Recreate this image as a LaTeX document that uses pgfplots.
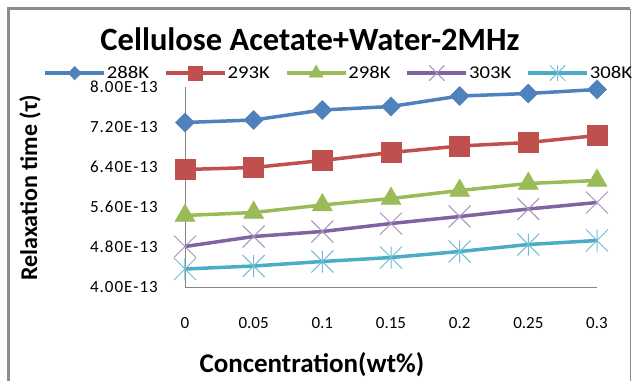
\documentclass[border=0pt]{standalone}
\usepackage{fontspec}
\setmainfont{Carlito}
\newfontfamily\ytickfont{Carlito}[LetterSpace=6]
\newfontfamily\legfont{Carlito}[FakeStretch=1.15]
\usepackage{pgfplots}
\pgfplotsset{compat=1.18}
\definecolor{cblue}{HTML}{4F81BD}
\definecolor{cred}{HTML}{C0504D}
\definecolor{cgreen}{HTML}{9BBB59}
\definecolor{cpurple}{HTML}{8064A2}
\definecolor{caqua}{HTML}{4BACC6}
\definecolor{framegray}{HTML}{8C8C8C}
\definecolor{axisgray}{HTML}{868686}
\pgfdeclareplotmark{xdiamond*}{%
  \pgfpathmoveto{\pgfqpoint{0pt}{\pgfplotmarksize}}%
  \pgfpathlineto{\pgfqpoint{\pgfplotmarksize}{0pt}}%
  \pgfpathlineto{\pgfqpoint{0pt}{-\pgfplotmarksize}}%
  \pgfpathlineto{\pgfqpoint{-\pgfplotmarksize}{0pt}}%
  \pgfpathclose\pgfusepathqfillstroke}
\pgfdeclareplotmark{xcross}{%
  \pgfpathmoveto{\pgfqpoint{-\pgfplotmarksize}{-\pgfplotmarksize}}%
  \pgfpathlineto{\pgfqpoint{\pgfplotmarksize}{\pgfplotmarksize}}%
  \pgfpathmoveto{\pgfqpoint{-\pgfplotmarksize}{\pgfplotmarksize}}%
  \pgfpathlineto{\pgfqpoint{\pgfplotmarksize}{-\pgfplotmarksize}}%
  \pgfusepathqstroke}
\pgfdeclareplotmark{xstar}{%
  \pgfpathmoveto{\pgfqpoint{-\pgfplotmarksize}{-\pgfplotmarksize}}%
  \pgfpathlineto{\pgfqpoint{\pgfplotmarksize}{\pgfplotmarksize}}%
  \pgfpathmoveto{\pgfqpoint{-\pgfplotmarksize}{\pgfplotmarksize}}%
  \pgfpathlineto{\pgfqpoint{\pgfplotmarksize}{-\pgfplotmarksize}}%
  \pgfpathmoveto{\pgfqpoint{0pt}{-\pgfplotmarksize}}%
  \pgfpathlineto{\pgfqpoint{0pt}{\pgfplotmarksize}}%
  \pgfusepathqstroke}
\begin{document}
\begin{tikzpicture}
\useasboundingbox (0pt,0pt) rectangle (632pt,381pt);
\draw[framegray, line width=3pt] (8pt,0pt) -- (8pt,372pt) -- (630pt,372pt);
\draw[framegray, line width=1pt] (630pt,372pt) -- (630pt,0pt);
\node[anchor=base, font=\fontsize{32.5}{38}\selectfont\bfseries] at (310pt,330pt) {Cellulose Acetate+Water-2MHz};
\begin{axis}[
  at={(185pt,94pt)}, anchor=south west,
  scale only axis, width=412pt, height=200pt,
  xmin=0, xmax=0.3, ymin=4e-13, ymax=8e-13,
  clip=false,
  scaled y ticks=false, scaled x ticks=false,
  axis lines*=left,
  axis line style={draw=axisgray, line width=0.8pt},
  major tick length=0pt,
  xtick={0,0.05,0.1,0.15,0.2,0.25,0.3},
  xticklabels={0,0.05,0.1,0.15,0.2,0.25,0.3},
  ytick={4e-13,4.8e-13,5.6e-13,6.4e-13,7.2e-13,8e-13},
  yticklabels={4.00E-13,4.80E-13,5.60E-13,6.40E-13,7.20E-13,8.00E-13},
  xticklabel style={font=\fontsize{17}{20}\selectfont, anchor=center, yshift=-36pt},
  yticklabel style={font=\ytickfont\fontsize{17}{20}\selectfont, anchor=east, inner sep=0pt, xshift=-27pt},
  xlabel={Concentration(wt\%)},
  ylabel={Relaxation time (τ)},
  xlabel style={font=\fontsize{27}{31}\selectfont\bfseries, at={(axis description cs:0.308,-0.39)}, anchor=center},
  ylabel style={font=\fontsize{24}{28}\selectfont\bfseries, at={(axis description cs:-0.376,0.497)}, anchor=center},
  legend columns=5,
  legend style={draw=none, fill=none, at={(axis description cs:0.372,1.07)}, anchor=center,
    font=\legfont\fontsize{18}{21}\selectfont, inner sep=0pt,
    nodes={inner sep=1pt},
    /tikz/every odd column/.append style={column sep=0pt},
    /tikz/every even column/.append style={column sep=14pt}},
  legend cell align=left,
  legend image code/.code={\draw[mark repeat=2,mark phase=2,#1, every mark/.append style={scale=0.7}] plot coordinates {(0pt,0pt) (29.5pt,0pt) (59pt,0pt)};},
  every axis plot/.append style={line width=3.5pt},
]
\addplot[color=cblue, mark=xdiamond*, mark size=9.5pt, mark options={line width=0.5pt, fill=cblue}] coordinates {
 (0,7.29e-13) (0.05,7.34e-13) (0.1,7.54e-13) (0.15,7.61e-13) (0.2,7.82e-13) (0.25,7.87e-13) (0.3,7.95e-13)};
\addlegendentry{288K}
\addplot[color=cred, mark=square*, mark size=10pt, mark options={line width=0.5pt, fill=cred}] coordinates {
 (0,6.35e-13) (0.05,6.39e-13) (0.1,6.53e-13) (0.15,6.69e-13) (0.2,6.82e-13) (0.25,6.89e-13) (0.3,7.03e-13)};
\addlegendentry{293K}
\addplot[color=cgreen, mark=triangle*, mark size=11.5pt, mark options={line width=0.5pt, fill=cgreen}] coordinates {
 (0,5.43e-13) (0.05,5.49e-13) (0.1,5.64e-13) (0.15,5.77e-13) (0.2,5.93e-13) (0.25,6.07e-13) (0.3,6.13e-13)};
\addlegendentry{298K}
\addplot[color=cpurple, mark=xcross, mark size=11pt, mark options={line width=1pt, draw=cpurple!70}] coordinates {
 (0,4.81e-13) (0.05,5.01e-13) (0.1,5.11e-13) (0.15,5.27e-13) (0.2,5.41e-13) (0.25,5.56e-13) (0.3,5.69e-13)};
\addlegendentry{303K}
\addplot[color=caqua, mark=xstar, mark size=11pt, mark options={line width=1pt, draw=caqua!80}] coordinates {
 (0,4.36e-13) (0.05,4.42e-13) (0.1,4.51e-13) (0.15,4.59e-13) (0.2,4.71e-13) (0.25,4.85e-13) (0.3,4.93e-13)};
\addlegendentry{308K}
\end{axis}
\end{tikzpicture}
\end{document}
